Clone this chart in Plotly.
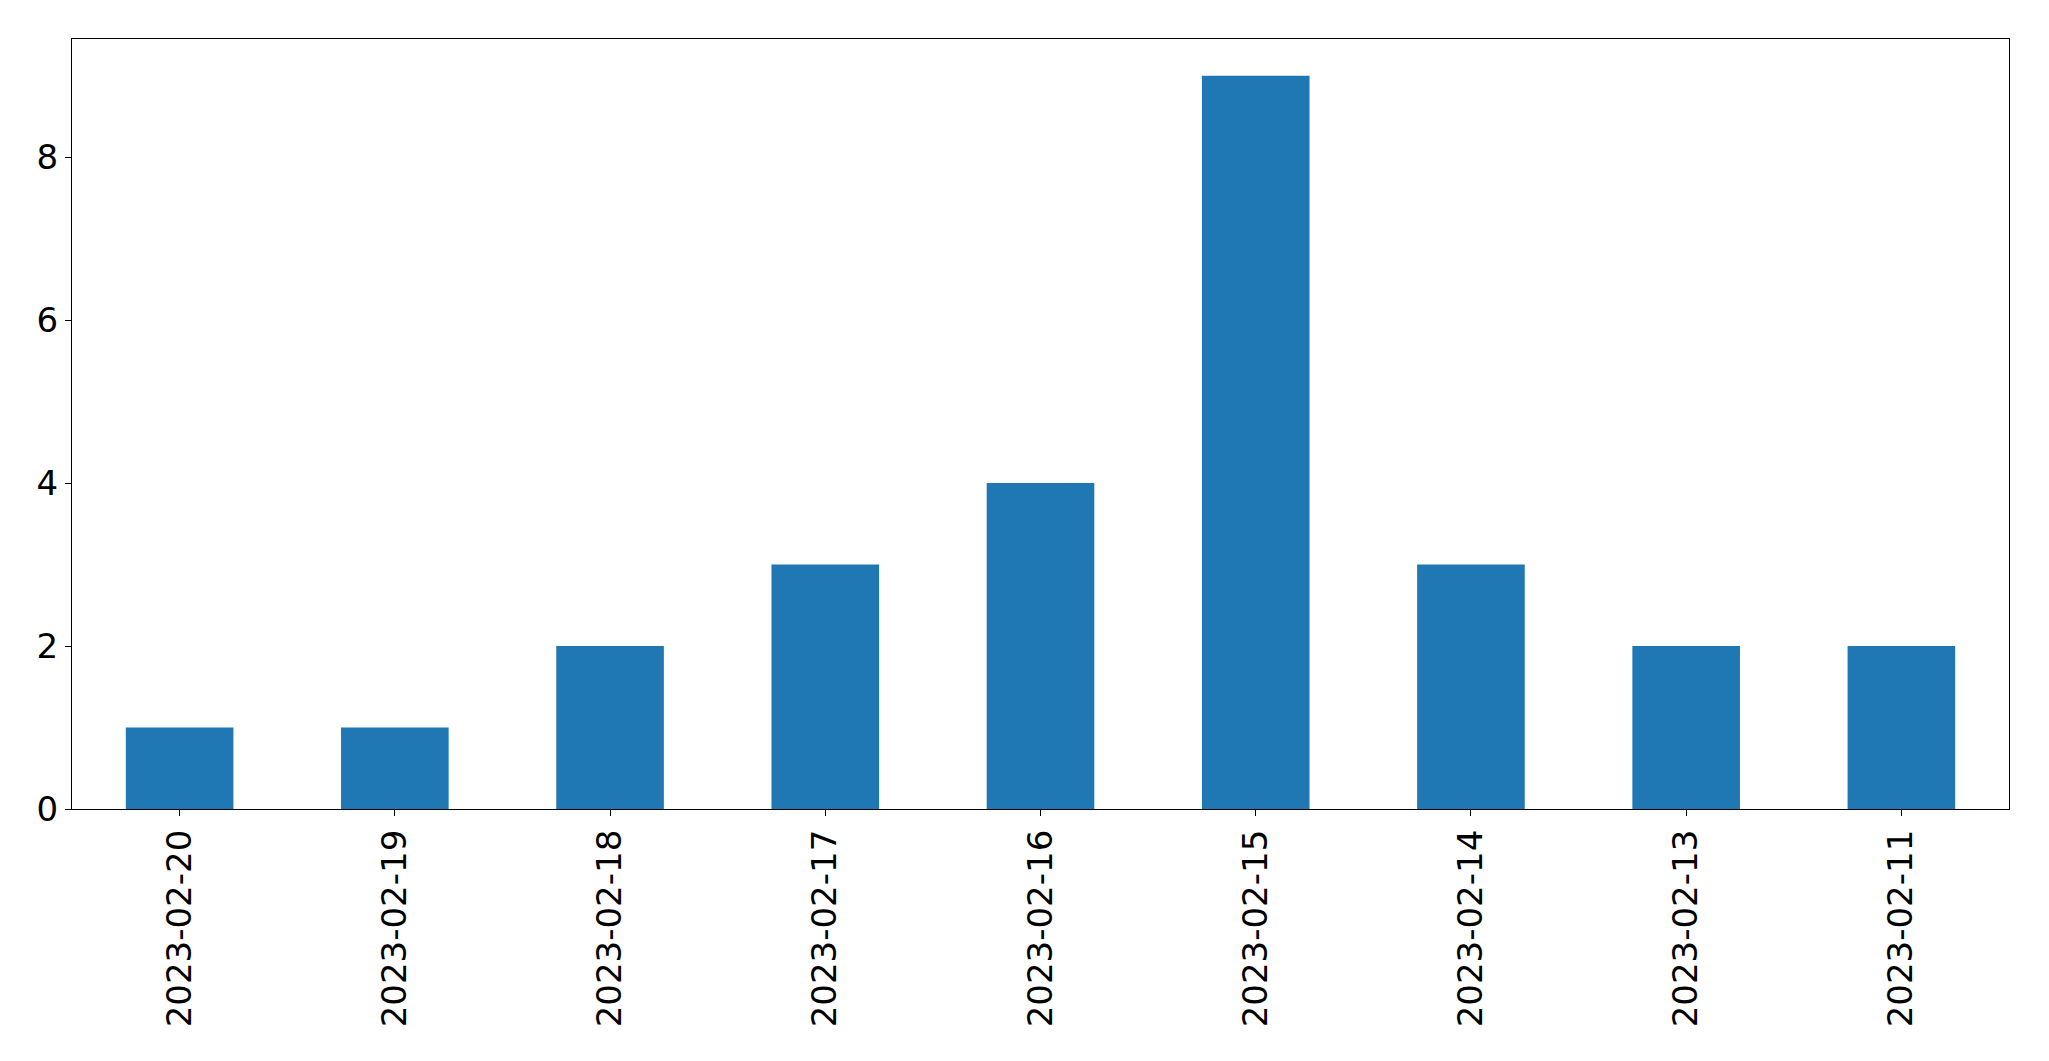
import plotly.graph_objects as go

dates = ["2023-02-20", "2023-02-19", "2023-02-18", "2023-02-17", "2023-02-16",
         "2023-02-15", "2023-02-14", "2023-02-13", "2023-02-11"]
counts = [1, 1, 2, 3, 4, 9, 3, 2, 2]
y_ticks = [0, 2, 4, 6, 8]

fig = go.Figure(go.Bar(x=list(range(len(dates))), y=counts, width=0.5,
                       marker=dict(color="#1f77b4", line=dict(width=0))))

fig.update_layout(
    width=2049, height=1061,
    margin=dict(l=64, r=48, t=31, b=260),
    plot_bgcolor="white", paper_bgcolor="white",
    showlegend=False,
    font=dict(family="DejaVu Sans", size=34, color="black"),
)
fig.update_xaxes(
    range=[-0.5, len(dates) - 0.5],
    tickmode="array", tickvals=list(range(len(dates))), ticktext=dates,
    tickangle=-90,
    showline=True, linecolor="black", linewidth=1.3, mirror=True,
    ticks="outside", ticklen=6, tickwidth=1.3, tickcolor="black",
    showgrid=False, zeroline=False,
)
fig.update_yaxes(
    range=[0, max(counts) * 1.05],
    tickmode="array", tickvals=y_ticks,
    showline=True, linecolor="black", linewidth=1.3, mirror=True,
    ticks="outside", ticklen=6, tickwidth=1.3, tickcolor="black",
    showgrid=False, zeroline=False,
)

fig.write_html("out.html")
